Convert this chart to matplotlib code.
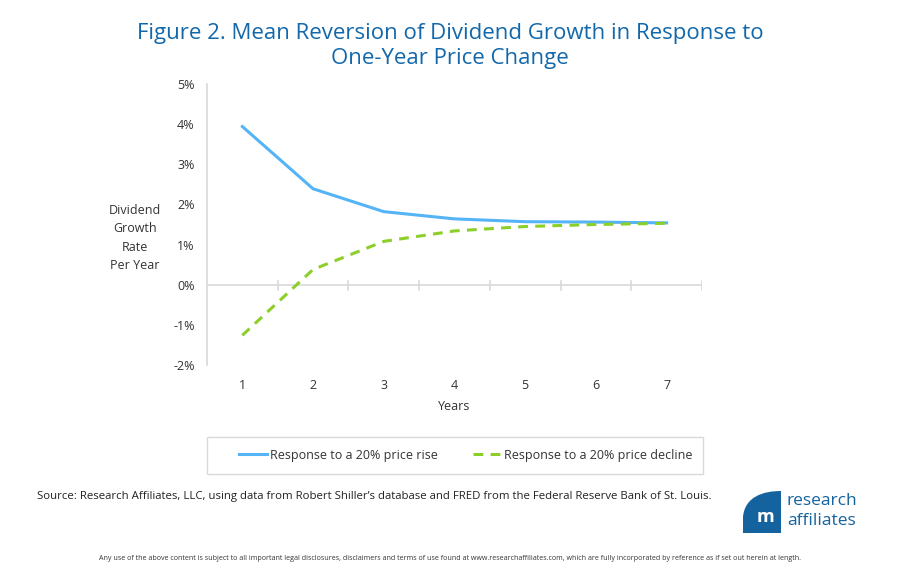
import numpy as np
import matplotlib.pyplot as plt
from matplotlib.patches import Rectangle, PathPatch
from matplotlib.path import Path
from matplotlib.ticker import FixedLocator, FuncFormatter

# data
years = [1, 2, 3, 4, 5, 6, 7]
rise = [3.94, 2.39, 1.82, 1.64, 1.57, 1.56, 1.54]
decline = [-1.26, 0.38, 1.08, 1.34, 1.45, 1.50, 1.53]
yticks = [-2, -1, 0, 1, 2, 3, 4, 5]

plt.rcParams['font.family'] = ['Open Sans', 'DejaVu Sans']
TITLE_BLUE = '#1268aa'
TXT = '#333333'

fig = plt.figure(figsize=(9, 5.76), dpi=100)
ax = fig.add_axes([207/900, 1-365/576, (702-207)/900, (365-84)/576])

ax.plot(years, rise, color='#55b4f5', lw=2.2, label='Response to a 20% price rise')
ax.plot(years, decline, color='#8ccf2a', lw=2.2, dashes=(3.2, 2.4),
        label='Response to a 20% price decline')

ax.set_xlim(0.5, 7.5)
ax.set_ylim(-2, 5)
ax.yaxis.set_major_locator(FixedLocator(yticks))
ax.yaxis.set_major_formatter(FuncFormatter(lambda v, p: f'{v:.0f}%'))
ax.set_xticks(years)
for s in ['top', 'right', 'bottom']:
    ax.spines[s].set_visible(False)
ax.spines['left'].set_color('#d9d9d9')
ax.spines['left'].set_linewidth(1.2)
ax.tick_params(axis='y', length=0, pad=9, labelsize=9, labelcolor=TXT)
ax.tick_params(axis='x', length=0, pad=10, labelsize=9, labelcolor=TXT)
# horizontal axis at zero with category ticks between points
ax.axhline(0, color='#d9d9d9', lw=1.2, zorder=0)
for xb in np.arange(1.5, 8.0, 1.0):
    ax.plot([xb, xb], [-0.12, 0.1], color='#d9d9d9', lw=1.2, zorder=0)
ax.set_xlabel('Years', fontsize=9, color=TXT, labelpad=6)

fig.text(135/900, 1-238/576, 'Dividend\nGrowth\nRate\nPer Year', ha='center', va='center',
         fontsize=9, color=TXT, linespacing=1.55)

fig.text(0.5, 1-46/576, 'Figure 2. Mean Reversion of Dividend Growth in Response to\nOne-Year Price Change',
         ha='center', va='center', fontsize=16, color=TITLE_BLUE, linespacing=1.3)

# legend box
fig.patches.append(Rectangle((207/900, 1-474/576), (703-207)/900, 37/576, transform=fig.transFigure,
                             fill=False, edgecolor='#d9d9d9', lw=1.0))
leg = fig.legend(loc='center', bbox_to_anchor=(466/900, 1-455/576), ncol=2, frameon=False,
                 fontsize=9, handlelength=2.2, columnspacing=2.8, handletextpad=0.3)
for t in leg.get_texts():
    t.set_color(TXT)

fig.text(37/900, 1-497/576, "Source: Research Affiliates, LLC, using data from Robert Shiller\u2019s database and FRED from the Federal Reserve Bank of St. Louis.",
         ha='left', va='center', fontsize=8.2, color='#222222')
fig.text(450/900, 1-558/576, 'Any use of the above content is subject to all important legal disclosures, disclaimers and terms of use found at www.researchaffiliates.com, which are fully incorporated by reference as if set out herein at length.',
         ha='center', va='center', fontsize=5.1, color='#333333')

# logo
x0, x1, y0, y1 = 743/900, 781/900, 1-533/576, 1-491/576
codes = [Path.MOVETO, Path.LINETO, Path.CURVE4, Path.CURVE4, Path.CURVE4, Path.LINETO, Path.CLOSEPOLY]
verts = [(x0, y0), (x0, y1 - 0.045), (x0 + 0.002, y1 - 0.01), (x1 - 0.02, y1), (x1, y1), (x1, y0), (x0, y0)]
logo = PathPatch(Path(verts, codes), transform=fig.transFigure, facecolor='#14639e', edgecolor='none')
fig.patches.append(logo)
fig.text(766/900, 1-517/576, 'm', ha='center', va='center', fontsize=13, color='white', fontweight='bold')
fig.text(787/900, 1-501/576, 'research', ha='left', va='center', fontsize=12.5, color='#14639e')
fig.text(787/900, 1-521/576, 'affiliates', ha='left', va='center', fontsize=12.5, color='#14639e')

fig.savefig('out.png', dpi=100)
